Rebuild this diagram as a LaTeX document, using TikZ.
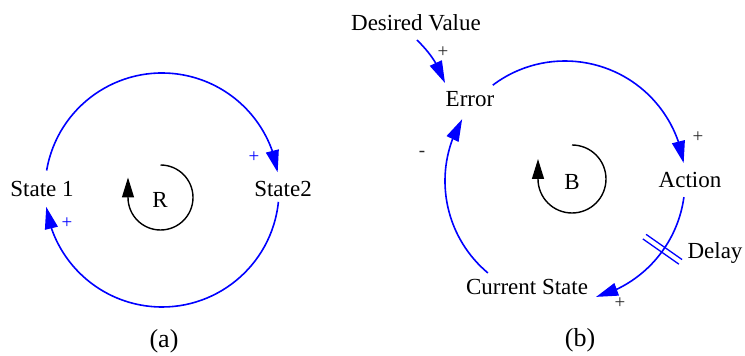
\documentclass[tikz,border=0pt]{standalone}
\usepackage{fontspec}
\setmainfont{Liberation Serif}
\usetikzlibrary{arrows.meta,calc,bending}
\begin{document}
\begin{tikzpicture}[x=1pt,y=1pt,
  lbl/.style={font=\fontsize{23}{27}\selectfont, inner sep=0pt, text=black},
  caplbl/.style={font=\fontsize{26}{30}\selectfont, inner sep=0pt, text=black},
  sgnb/.style={font=\fontsize{19}{22}\selectfont, inner sep=0pt, text=blue},
  sgnk/.style={font=\fontsize{19}{22}\selectfont, inner sep=0pt, text=black!85},
  link/.style={draw=blue, line width=1.6pt, -{Triangle[length=22pt,width=13pt]}},
  loopind/.style={draw=black, line width=1.4pt, -{Triangle[length=20pt,width=12pt]}},
  delaymark/.style={draw=blue, line width=1.3pt}
]
\useasboundingbox (0,0) rectangle (745,356);

% ---------- (a) ----------
\coordinate (ca) at (162,166);
\node[lbl] (s1) at (42,167) {State 1};
\node[lbl] (s2) at (283,167) {State2};
\coordinate (s1top) at ($(ca)+(170.4:117)$);
\coordinate (s2bot) at ($(ca)+(-5.8:117)$);
\draw[link] (s1top) arc[start angle=170.4, end angle=8.7, radius=117];
\draw[link] (s2bot) arc[start angle=-5.8, end angle=-171.7, radius=117];
\node[sgnb] (pa1) at (254,199) {+};
\node[sgnb] (pa2) at (67,133) {+};
\coordinate (cR) at (160.5,158.5);
\node[lbl] (R) at (160,156) {R};
\draw[loopind] ($(cR)+(90:32.5)$) arc[start angle=90, end angle=-180, radius=32.5] -- ++(0,20);
\node[caplbl] (capa) at (164,15) {(a)};

% ---------- (b) ----------
\coordinate (cb) at (565,175);
\node[lbl] (dv) at (416,333) {Desired Value};
\node[lbl] (err) at (470,257) {Error};
\node[lbl] (act) at (690,176) {Action};
\node[lbl] (cur) at (527,69) {Current State};
\node[lbl] (dly) at (715,103) {Delay};
\coordinate (dvs) at (417,316);
\coordinate (errin) at (445,273);
\draw[link] (dvs) to[bend left=12] (errin);
\node[sgnk] (pdv) at (443,304) {+};

\coordinate (errout) at ($(cb)+(127:120)$);
\draw[link] (errout) arc[start angle=127, end angle=8.6, radius=120];
\node[sgnk] (pact) at (698,219) {+};

\coordinate (actout) at ($(cb)+(-7.7:120)$);
\draw[link] (actout) arc[start angle=-7.7, end angle=-75, radius=120];
\node[sgnk] (pcur) at (620,53) {+};

\coordinate (curout) at ($(cb)+(230:120)$);
\draw[link] (curout) arc[start angle=230, end angle=149, radius=120];
\node[sgnk] (perr) at (422,202) {-};

% delay marks
\coordinate (dm1a) at ($(cb)+(-35:97)+(55:2.8)$);
\coordinate (dm1b) at ($(cb)+(-35:141)+(55:2.8)$);
\coordinate (dm2a) at ($(cb)+(-35:97)+(235:2.8)$);
\coordinate (dm2b) at ($(cb)+(-35:141)+(235:2.8)$);
\draw[delaymark] (dm1a) -- (dm1b);
\draw[delaymark] (dm2a) -- (dm2b);

\coordinate (cB) at (572,177);
\node[lbl] (B) at (572,174) {B};
\draw[loopind] ($(cB)+(90:34)$) arc[start angle=90, end angle=-180, radius=34] -- ++(0,20);
\node[caplbl] (capb) at (580,16) {(b)};
\end{tikzpicture}
\end{document}
